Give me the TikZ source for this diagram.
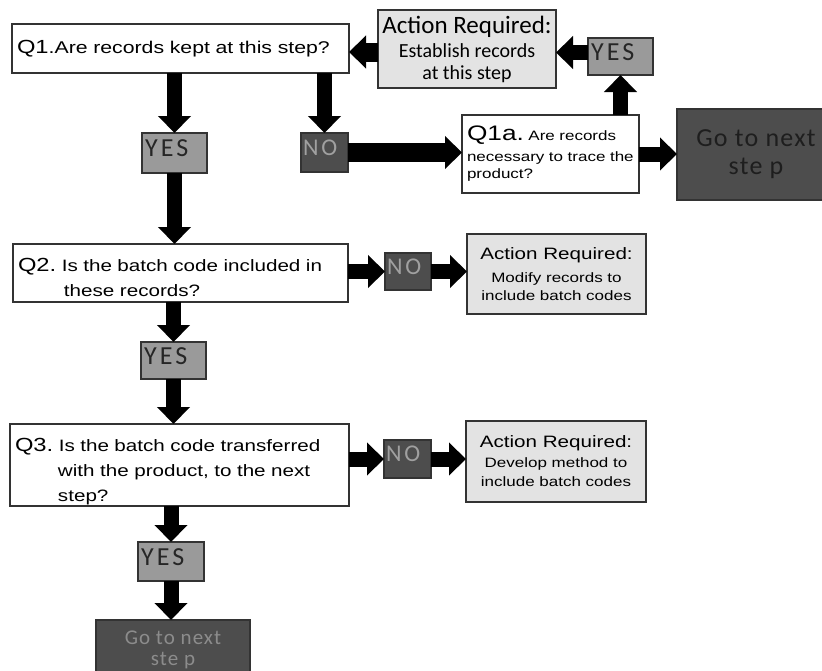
\documentclass[tikz,border=0pt]{standalone}
\usepackage{fontspec}
\setmainfont{Liberation Sans}
\newfontfamily\qfont[FakeStretch=1.25]{Liberation Sans}
\newfontfamily\calfont{Carlito}
\newfontfamily\tagfont[LetterSpace=12]{Carlito}
\newfontfamily\gofont[LetterSpace=5]{Carlito}
\usetikzlibrary{arrows.meta}
\definecolor{bordc}{HTML}{333333}
\definecolor{actfill}{HTML}{E3E3E3}
\definecolor{yesfill}{HTML}{9A9A9A}
\definecolor{darkfill}{HTML}{4D4D4D}
\definecolor{notext}{HTML}{A0A0A0}
\definecolor{gotext}{HTML}{1E1E1E}
\tikzset{
  box/.style={draw=bordc, line width=1.3pt, inner sep=0pt, outer sep=0pt},
  qbox/.style={box, fill=white, align=left, inner xsep=5pt,
    font=\qfont\fontsize{16.5}{25}\selectfont},
  actbox/.style={box, fill=actfill, align=center,
    font=\qfont\fontsize{13.6}{18}\selectfont},
  yesbox/.style={box, fill=yesfill, align=left, inner xsep=3pt, text=black!85,
    font=\tagfont\fontsize{26}{28}\selectfont, text height=17pt, text depth=10pt},
  nobox/.style={box, fill=darkfill, align=left, inner xsep=2pt, text=notext,
    font=\tagfont\fontsize{24}{26}\selectfont, text height=16pt, text depth=11pt},
  gobox/.style={box, fill=darkfill, align=center},
  blk/.style={line width=15pt, -{Triangle[width=32pt,length=17pt]}},
  blkw/.style={line width=19pt, -{Triangle[width=32pt,length=17pt]}},
}
\newcommand{\qlab}[1]{{\fontsize{19}{25}\selectfont #1}}
\begin{document}
\begin{tikzpicture}[x=1pt,y=-1pt]
\useasboundingbox (0,0) rectangle (822,670);
\clip (0,0) rectangle (822,670);
\fill[white] (0,0) rectangle (822,670);

% Q1 row
\node[qbox, minimum height=49pt, text width=327pt, font=\qfont\fontsize{17}{22}\selectfont] (q1) at (180.5,48.5)
  {\qlab{Q1}.Are records kept at this step?};
\node[actbox, minimum width=178pt, minimum height=78pt,
  font=\calfont\fontsize{20}{22}\selectfont] (act1) at (467,49)
  {{\fontsize{25}{25}\selectfont Action Required:}\\[2pt]
   Establish records\\
   at this step};
\node[yesbox, text width=59pt, minimum height=37pt] (yesA) at (620.5,56.5) {YES};
\node[qbox, minimum height=78pt, text width=167pt,
  font=\qfont\fontsize{13.6}{17}\selectfont] (q1a) at (550.5,154)
  {{\fontsize{21}{24}\selectfont Q1a.}\ Are records\\[4pt]
   necessary to trace the\\
   product?};
\node[gobox, minimum width=158pt, minimum height=91pt, text=gotext,
  font=\gofont\fontsize{26}{28}\selectfont] (go1) at (756,154.5) {Go to next\\ste p};
\node[yesbox, text width=59pt, minimum height=40pt] (yes1) at (174.5,153) {YES};
\node[nobox, text width=43pt, minimum height=39pt] (no1) at (324.5,152.5) {NO};

% Q2 row
\node[qbox, minimum height=58pt, text width=325pt] (q2) at (180.5,273)
  {\rule{0pt}{23pt}\qlab{Q2.}\ Is the batch code included in\\
   \hspace*{46pt}these records?};
\node[nobox, text width=42pt, minimum height=37pt] (no2) at (408,271.5) {NO};
\node[actbox, minimum width=179pt, minimum height=80pt] (act2) at (556.5,274)
  {{\fontsize{16.5}{24}\selectfont Action Required:}\\[5pt]
   Modify records to\\
   include batch codes};
\node[yesbox, text width=59pt, minimum height=37pt] (yes2) at (173.5,360.5) {YES};

% Q3 row
\node[qbox, minimum height=82pt, text width=329pt] (q3) at (179.5,465)
  {\rule{0pt}{27pt}\qlab{Q3.}\ Is the batch code transferred\\
   \hspace*{43pt}with the product, to the next\\
   \hspace*{43pt}step?};
\node[nobox, text width=43pt, minimum height=38pt] (no3) at (407.5,459) {NO};
\node[actbox, minimum width=180pt, minimum height=81pt,
  font=\qfont\fontsize{13.6}{19}\selectfont] (act3) at (556,461.5)
  {{\fontsize{16.5}{22}\selectfont Action Required:}\\[1pt]
   Develop method to\\
   include batch codes};
\node[yesbox, text width=60pt, minimum height=39pt] (yes3) at (171,561.5) {YES};
\node[gobox, minimum width=154pt, minimum height=60pt, text=black!45,
  font=\gofont\fontsize{21}{21}\selectfont] (go2) at (173,650) {Go to next\\ste p};

% connectors
\draw[blk] (q1.south -| yes1.north) -- (yes1.north);
\draw[blk] (q1.south -| no1.north) -- (no1.north);
\draw[blkw] (no1.east) -- (no1.east -| q1a.west);
\draw[blk] (yesA.south |- q1a.north) -- (yesA.south);
\draw[blk] ([yshift=4pt]yesA.west) -- ([yshift=4pt]yesA.west -| act1.east);
\draw[blkw] ([yshift=-3pt]act1.west) -- ([yshift=-3pt]act1.west -| q1.east);
\draw[blk] (q1a.east) -- (q1a.east -| go1.west);
\draw[blk] (yes1.south) -- (yes1.south |- q2.north);
\draw[blk] (q2.east |- no2.west) -- (no2.west);
\draw[blk] (no2.east) -- (no2.east -| act2.west);
\draw[blk] (yes2.north |- q2.south) -- (yes2.north);
\draw[blk] (yes2.south) -- (yes2.south |- q3.north);
\draw[blk] (q3.east |- no3.west) -- (no3.west);
\draw[blk] (no3.east) -- (no3.east -| act3.west);
\draw[blk] (yes3.north |- q3.south) -- (yes3.north);
\draw[blk] (yes3.south) -- (yes3.south |- go2.north);
\end{tikzpicture}
\end{document}
